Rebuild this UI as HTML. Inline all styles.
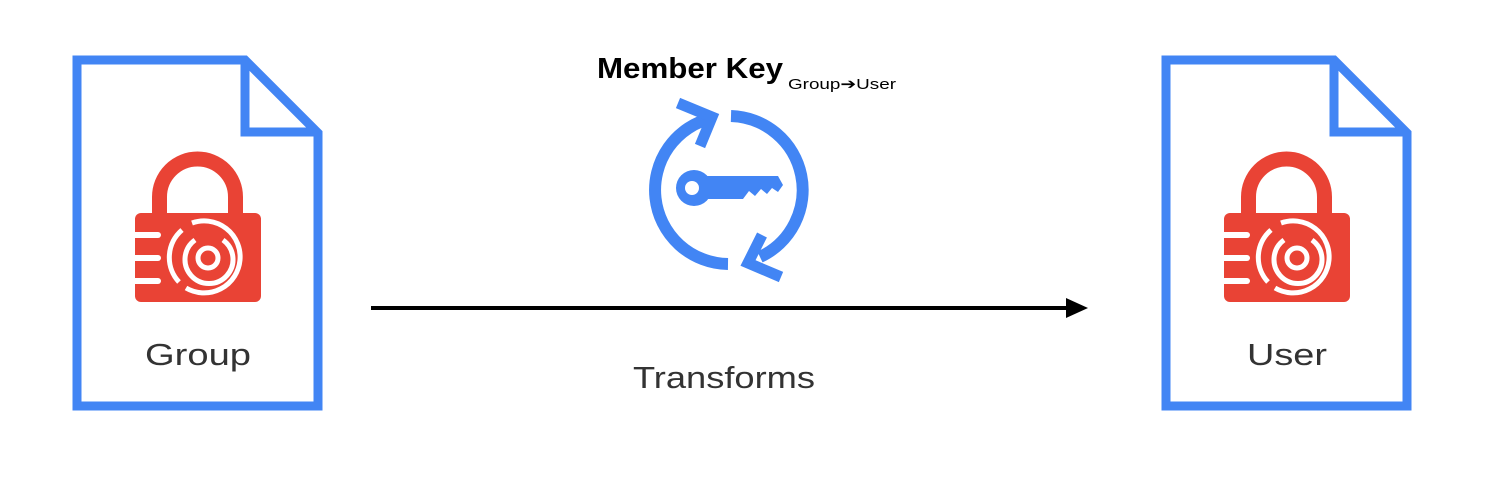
<!DOCTYPE html>
<html><head><style>
body{margin:0;background:#fff;}
svg text{font-family:"Liberation Sans",sans-serif;}
</style></head><body>
<svg width="1487" height="493" viewBox="0 0 1487 493" xmlns="http://www.w3.org/2000/svg">
<defs>
<g id="doc">
  <path d="M77 60 H245 L318 133 V406 H77 Z" fill="none" stroke="#4285f4" stroke-width="9"/>
  <path d="M245 60 V132 H318" fill="none" stroke="#4285f4" stroke-width="9"/>
  <path d="M159.5 213 V197 A38 38 0 0 1 235.5 197 V213" fill="none" stroke="#e94335" stroke-width="15"/>
  <rect x="135" y="213" width="126" height="89" rx="6" fill="#e94335"/>
  <g stroke="#fff" stroke-width="6" stroke-linecap="round">
    <line x1="132" y1="235" x2="158" y2="235"/>
    <line x1="132" y1="258" x2="158" y2="258"/>
    <line x1="132" y1="281" x2="158" y2="281"/>
  </g>
  <g fill="none" stroke="#fff" stroke-width="5">
    <path d="M192 223 A36 36 0 1 1 186 288"/>
    <path d="M179 282 A36 36 0 0 1 182 230"/>
    <path d="M223 240 A24 24 0 1 1 195 240"/>
    <circle cx="208" cy="258" r="10"/>
  </g>
</g>
</defs>
<use href="#doc"/>
<use href="#doc" transform="translate(1089,0)"/>
<text x="145" y="365" font-size="31" fill="#333" textLength="106" lengthAdjust="spacingAndGlyphs">Group</text>
<text x="1247" y="365" font-size="31" fill="#333" textLength="80" lengthAdjust="spacingAndGlyphs">User</text>
<line x1="371" y1="308" x2="1070" y2="308" stroke="#000" stroke-width="4"/>
<polygon points="1088,308 1066,298 1066,318" fill="#000"/>
<text x="633" y="388" font-size="31" fill="#333" textLength="182" lengthAdjust="spacingAndGlyphs">Transforms</text>
<text x="597" y="78" font-size="29" font-weight="bold" fill="#000" textLength="186" lengthAdjust="spacingAndGlyphs">Member Key</text>
<text x="788" y="89" font-size="15" fill="#000" textLength="108" lengthAdjust="spacingAndGlyphs">Group➔User</text>
<g fill="none" stroke="#4285f4" stroke-width="12">
  <path d="M712 118 A74 74 0 0 0 728 264"/>
  <path d="M731 116 A74 74 0 0 1 760 257"/>
</g>
<polyline points="678,103 712,117 700,146" fill="none" stroke="#4285f4" stroke-width="11"/>
<polyline points="781,277 748,263 762,235" fill="none" stroke="#4285f4" stroke-width="11"/>
<circle cx="694" cy="188" r="18" fill="#4285f4"/>
<circle cx="692" cy="188" r="7" fill="#fff"/>
<polygon points="705,176 778,176 783,185 778,192 772,188 767,194 761,189 755,196 749,191 743,199 705,199" fill="#4285f4"/>
</svg>
</body></html>
